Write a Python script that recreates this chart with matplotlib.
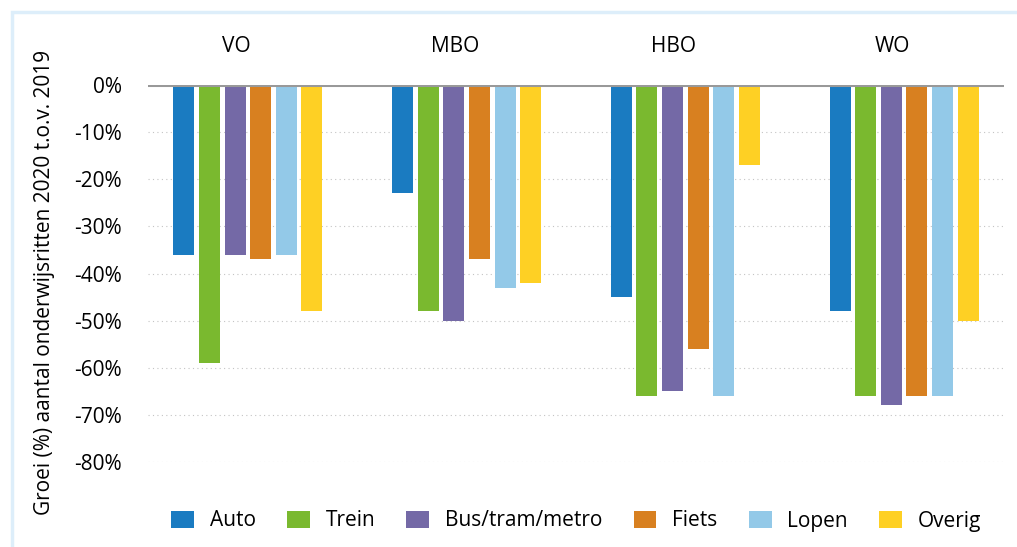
import matplotlib
matplotlib.use("Agg")
import matplotlib.pyplot as plt
from matplotlib.patches import Rectangle
import numpy as np

plt.rcParams['font.family'] = ['Open Sans', 'DejaVu Sans']

# data
groups = ['VO', 'MBO', 'HBO', 'WO']
modes = ['Auto', 'Trein', 'Bus/tram/metro', 'Fiets', 'Lopen', 'Overig']
auto = [-36, -23, -45, -48]
trein = [-59, -48, -66, -66]
bus = [-36, -50, -65, -68]
fiets = [-37, -37, -56, -66]
lopen = [-36, -43, -66, -66]
overig = [-48, -42, -17, -50]
series = [auto, trein, bus, fiets, lopen, overig]
colors = ['#1a7bc1', '#7ab92f', '#7469a6', '#d88020', '#93c9e8', '#fed024']
yticks = np.arange(0, -90, -10)

W, H = 1017, 547
fig = plt.figure(figsize=(W / 100, H / 100), dpi=100)
ax = fig.add_axes([148 / W, (H - 462) / H, 856 / W, 377 / H])

x = np.arange(len(groups))
gap = 218.7  # px between group centres
step = 25.6 / gap
width = 21 / gap
for i, (vals, c) in enumerate(zip(series, colors)):
    ax.bar(x + (i - 2.5) * step, vals, width, color=c, label=modes[i], zorder=3)

ax.set_xlim(-100 / gap, 3 + 100 / gap)
ax.set_ylim(-80, 0)
ax.set_yticks(yticks)
ax.set_yticklabels(['%d%%' % v for v in yticks], fontsize=15)
ax.tick_params(axis='y', length=0, pad=19)
ax.set_xticks([])
for s in ax.spines.values():
    s.set_visible(False)
for v in yticks[1:]:
    ax.axhline(v, color='#c4c4c4', lw=0.8, ls=(0, (1, 3)), zorder=1)
ax.axhline(0, color='#999999', lw=2.2, zorder=4)

# group labels above the chart
for xi, g in zip(x, groups):
    ax.text(xi - 12 / gap, 8.1, g, ha='center', va='center', fontsize=15, clip_on=False)

fig.text(45 / W, 1 - 282 / H, 'Groei (%) aantal onderwijsritten 2020 t.o.v. 2019',
         rotation=90, ha='center', va='center', fontsize=15)

leg = ax.legend(loc='center', bbox_to_anchor=(0.5, -(521 - 462) / 377), ncol=6,
                frameon=False, fontsize=15, handlelength=1.1, handleheight=0.85,
                handletextpad=0.75, columnspacing=1.5)

# light blue frame around the figure
fig.patches.append(Rectangle((12 / W, -0.2), 1.2, 1.2 - 12 / H, transform=fig.transFigure,
                             fill=False, edgecolor='#ddeefa', lw=2.5))

fig.savefig('out.png', dpi=100)
